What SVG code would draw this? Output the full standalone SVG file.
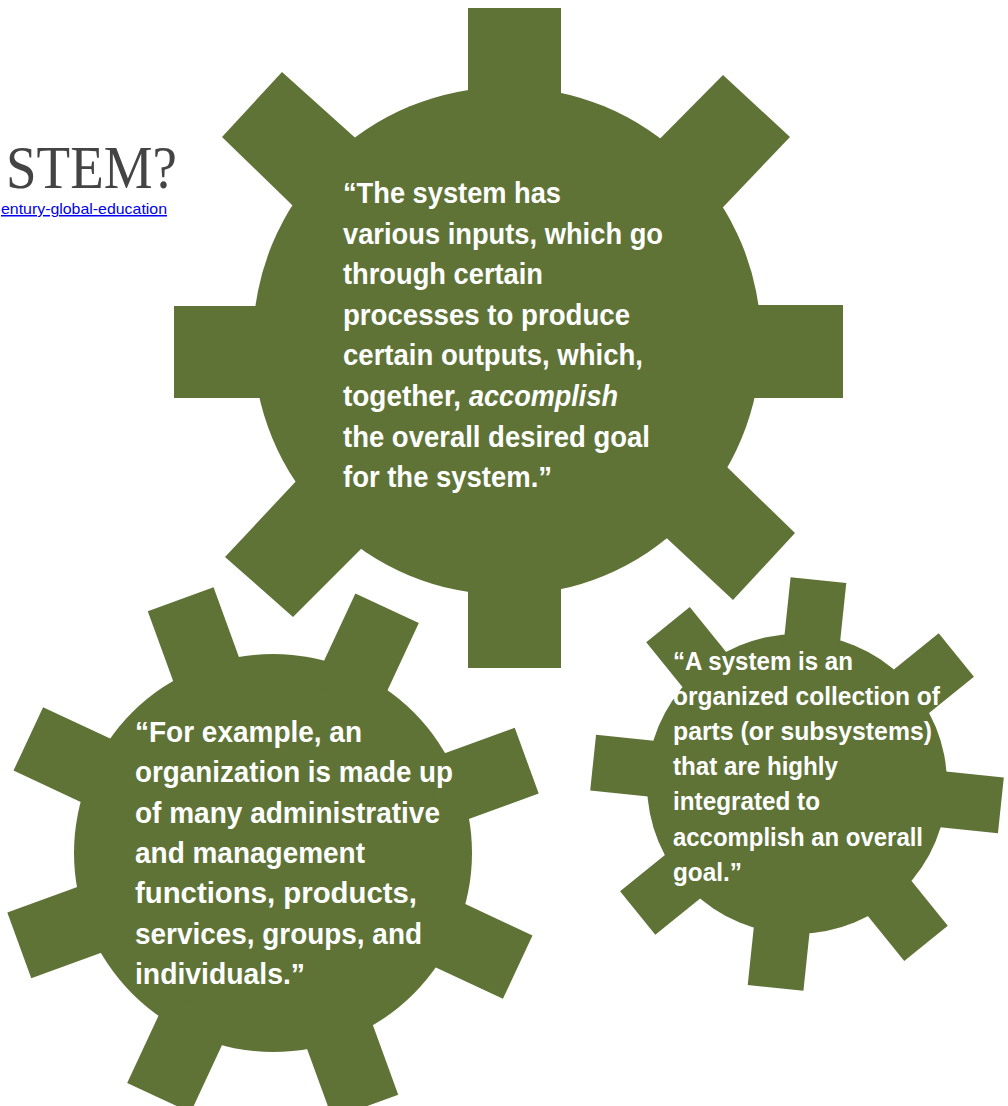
<svg xmlns="http://www.w3.org/2000/svg" width="1008" height="1106" viewBox="0 0 1008 1106">
  <style>
    .gear { fill: #5f7337; }
    .quote { font-family: "Liberation Sans", Arial, sans-serif; font-weight: bold; fill: #ffffff; }
    .q-large { font-size: 30px; }
    .q-mid { font-size: 29px; }
    .q-small { font-size: 25px; }
    .heading { font-family: "Liberation Serif", "Times New Roman", serif; font-size: 62px; fill: #444444; }
    .link { font-family: "Liberation Sans", Arial, sans-serif; font-size: 15px; fill: #0000ee; text-decoration: underline; }
  </style>

  <rect x="0" y="0" width="1008" height="1106" fill="#ffffff"/>

  <!-- page heading and source link -->
  <g id="heading">
    <text class="heading" x="6" y="188" textLength="171" lengthAdjust="spacingAndGlyphs">STEM?</text>
    <text class="link" x="1" y="214" textLength="166" lengthAdjust="spacingAndGlyphs">entury-global-education</text>
  </g>

  <!-- large gear: inputs / processes / outputs -->
  <g id="gear-top">
    <circle class="gear" cx="507" cy="341" r="254"/>
    <rect class="gear" x="468" y="8" width="93" height="120"/>
    <rect class="gear" x="174" y="306" width="126" height="92"/>
    <rect class="gear" x="714" y="305" width="129" height="93"/>
    <rect class="gear" x="468" y="560" width="93" height="108"/>
    <polygon class="gear" points="282,72 222,137 326,238 391,170"/>
    <polygon class="gear" points="723,75 790,137 687,245 624,175"/>
    <polygon class="gear" points="225,557 293,617 393,517 328,447"/>
    <polygon class="gear" points="795,533 733,600 629,503 691,432"/>
    <text class="quote q-large">
      <tspan x="343" y="203" textLength="218" lengthAdjust="spacingAndGlyphs">“The system has</tspan>
      <tspan x="343" y="243.6" textLength="320" lengthAdjust="spacingAndGlyphs">various inputs, which go</tspan>
      <tspan x="343" y="284.2" textLength="200" lengthAdjust="spacingAndGlyphs">through certain</tspan>
      <tspan x="343" y="324.8" textLength="287" lengthAdjust="spacingAndGlyphs">processes to produce</tspan>
      <tspan x="343" y="365.4" textLength="300" lengthAdjust="spacingAndGlyphs">certain outputs, which,</tspan>
      <tspan x="343" y="406" textLength="118" lengthAdjust="spacingAndGlyphs">together,</tspan>
      <tspan x="469" y="406" textLength="149" lengthAdjust="spacingAndGlyphs" font-style="italic">accomplish</tspan>
      <tspan x="343" y="446.6" textLength="307" lengthAdjust="spacingAndGlyphs">the overall desired goal</tspan>
      <tspan x="343" y="487.2" textLength="209" lengthAdjust="spacingAndGlyphs">for the system.”</tspan>
    </text>
  </g>

  <!-- lower-left gear: organization example -->
  <g id="gear-left">
    <g transform="translate(273,853)">
      <circle class="gear" r="199"/>
      <rect class="gear" x="-35" y="-270" width="70" height="100" transform="rotate(70)"/>
      <rect class="gear" x="-35" y="-270" width="70" height="100" transform="rotate(115)"/>
      <rect class="gear" x="-35" y="-270" width="70" height="100" transform="rotate(160)"/>
      <rect class="gear" x="-35" y="-270" width="70" height="100" transform="rotate(205)"/>
      <rect class="gear" x="-35" y="-270" width="70" height="100" transform="rotate(250)"/>
      <rect class="gear" x="-35" y="-270" width="70" height="100" transform="rotate(295)"/>
      <rect class="gear" x="-35" y="-270" width="70" height="100" transform="rotate(340)"/>
      <rect class="gear" x="-35" y="-270" width="70" height="100" transform="rotate(25)"/>
    </g>
    <text class="quote q-mid">
      <tspan x="135" y="742" textLength="227" lengthAdjust="spacingAndGlyphs">“For example, an</tspan>
      <tspan x="135" y="782.3" textLength="318" lengthAdjust="spacingAndGlyphs">organization is made up</tspan>
      <tspan x="135" y="822.6" textLength="305" lengthAdjust="spacingAndGlyphs">of many administrative</tspan>
      <tspan x="135" y="863" textLength="230" lengthAdjust="spacingAndGlyphs">and management</tspan>
      <tspan x="135" y="903.3" textLength="282" lengthAdjust="spacingAndGlyphs">functions, products,</tspan>
      <tspan x="135" y="943.6" textLength="287" lengthAdjust="spacingAndGlyphs">services, groups, and</tspan>
      <tspan x="135" y="984" textLength="170" lengthAdjust="spacingAndGlyphs">individuals.”</tspan>
    </text>
  </g>

  <!-- lower-right gear: definition -->
  <g id="gear-right">
    <g transform="translate(797,784)">
      <circle class="gear" r="150"/>
      <rect class="gear" x="-28" y="-205" width="56" height="80" transform="rotate(6)"/>
      <rect class="gear" x="-28" y="-205" width="56" height="80" transform="rotate(51)"/>
      <rect class="gear" x="-28" y="-205" width="56" height="80" transform="rotate(96)"/>
      <rect class="gear" x="-28" y="-205" width="56" height="80" transform="rotate(141)"/>
      <rect class="gear" x="-28" y="-205" width="56" height="80" transform="rotate(186)"/>
      <rect class="gear" x="-28" y="-205" width="56" height="80" transform="rotate(231)"/>
      <rect class="gear" x="-28" y="-205" width="56" height="80" transform="rotate(276)"/>
      <rect class="gear" x="-28" y="-205" width="56" height="80" transform="rotate(321)"/>
    </g>
    <text class="quote q-small">
      <tspan x="673" y="670" textLength="180" lengthAdjust="spacingAndGlyphs">“A system is an</tspan>
      <tspan x="673" y="705" textLength="267" lengthAdjust="spacingAndGlyphs">organized collection of</tspan>
      <tspan x="673" y="740" textLength="259" lengthAdjust="spacingAndGlyphs">parts (or subsystems)</tspan>
      <tspan x="673" y="775" textLength="165" lengthAdjust="spacingAndGlyphs">that are highly</tspan>
      <tspan x="673" y="810" textLength="147" lengthAdjust="spacingAndGlyphs">integrated to</tspan>
      <tspan x="673" y="846" textLength="250" lengthAdjust="spacingAndGlyphs">accomplish an overall</tspan>
      <tspan x="673" y="881" textLength="69" lengthAdjust="spacingAndGlyphs">goal.”</tspan>
    </text>
  </g>

  <g id="connectors"/>
</svg>
